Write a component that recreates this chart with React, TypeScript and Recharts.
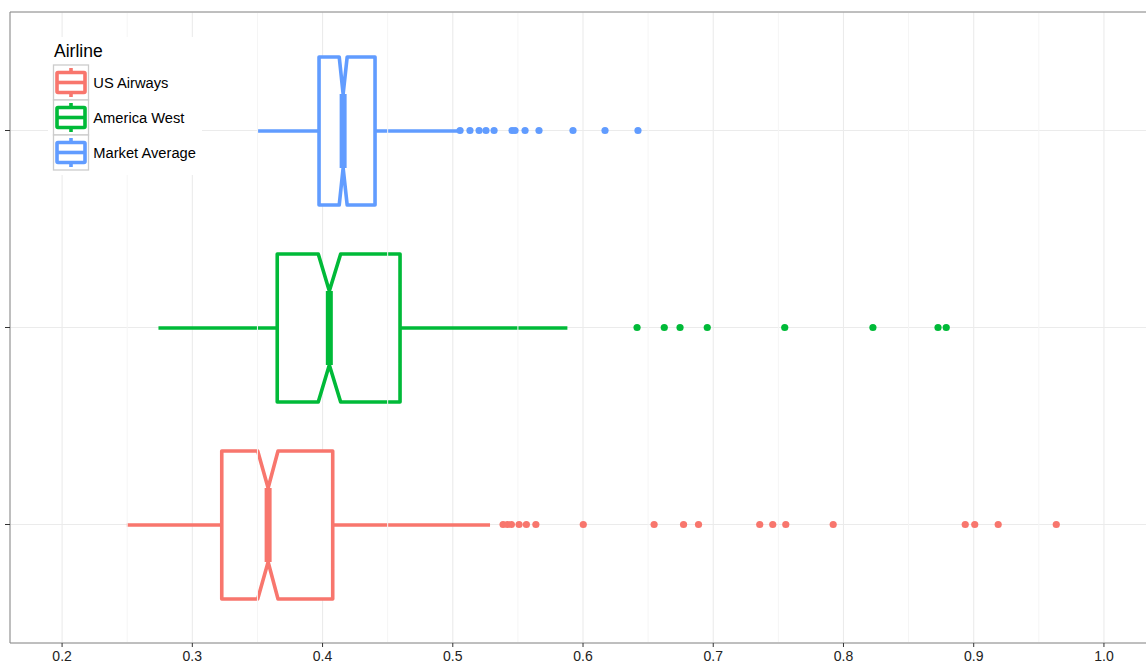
import {
  ComposedChart,
  Bar,
  Scatter,
  XAxis,
  YAxis,
  CartesianGrid,
  ReferenceLine,
  Legend,
} from "recharts";

const AIRLINES = ["US Airways", "America West", "Market Average"];
const COLORS = ["#F8766D", "#00BA38", "#619CFF"];

// five-number summaries plus notch bounds, one entry per airline
const WHISKER_LO = [0.2497, 0.274, 0.3505];
const Q1 = [0.3226, 0.3652, 0.3973];
const MEDIAN = [0.3582, 0.4052, 0.4158];
const Q3 = [0.4078, 0.4595, 0.4403];
const WHISKER_HI = [0.5286, 0.588, 0.5035];
const NOTCH_LO = [0.3502, 0.3967, 0.4128];
const NOTCH_HI = [0.3658, 0.4139, 0.4189];

const US_AIRWAYS_OUT = [
  0.5386, 0.542, 0.545, 0.5509, 0.5565, 0.5638, 0.6002, 0.6546, 0.6772, 0.6887,
  0.7357, 0.7457, 0.7557, 0.7921, 0.8935, 0.9008, 0.9188, 0.9634,
];
const AMERICA_WEST_OUT = [0.6415, 0.6624, 0.6745, 0.6954, 0.7549, 0.8226, 0.8726, 0.8789];
const MARKET_OUT = [
  0.5056, 0.5132, 0.5202, 0.5255, 0.5317, 0.5455, 0.5478, 0.5555, 0.5662, 0.5923,
  0.6169, 0.6422,
];

const X_TICKS = [0.2, 0.3, 0.4, 0.5, 0.6, 0.7, 0.8, 0.9, 1.0];
const X_MINOR = [0.25, 0.35, 0.45, 0.55, 0.65, 0.75, 0.85, 0.95];
// panel runs a few px past the right edge, so its right border is cropped off
const X_DOMAIN = [0.16, 1.0346];

const FONT = '"Liberation Sans", Arial, Helvetica, sans-serif';

const boxes = AIRLINES.map((airline, i) => ({
  airline,
  color: COLORS[i],
  lo: WHISKER_LO[i],
  q1: Q1[i],
  med: MEDIAN[i],
  q3: Q3[i],
  hi: WHISKER_HI[i],
  nLo: NOTCH_LO[i],
  nHi: NOTCH_HI[i],
  range: [WHISKER_LO[i], WHISKER_HI[i]],
}));

const outliers = [US_AIRWAYS_OUT, AMERICA_WEST_OUT, MARKET_OUT].flatMap((vals, i) =>
  vals.map((value) => ({ airline: AIRLINES[i], value, color: COLORS[i] }))
);

// the bar spans lo..hi, so its pixel extent gives the axis mapping for the rest of the box
function NotchedBox(props: any) {
  const { x, y, width, height, payload } = props;
  const { lo, hi, q1, q3, med, nLo, nHi, color } = payload;
  const px = (v: number) => x + ((v - lo) / (hi - lo)) * width;
  const cy = y + height / 2;
  const top = y;
  const bot = y + height;
  const inset = height / 4;
  const d = [
    `M${px(q1)},${top}`,
    `L${px(nLo)},${top}`,
    `L${px(med)},${top + inset}`,
    `L${px(nHi)},${top}`,
    `L${px(q3)},${top}`,
    `L${px(q3)},${bot}`,
    `L${px(nHi)},${bot}`,
    `L${px(med)},${bot - inset}`,
    `L${px(nLo)},${bot}`,
    `L${px(q1)},${bot}`,
    "Z",
  ].join(" ");
  return (
    <g>
      <line x1={px(lo)} x2={px(q1)} y1={cy} y2={cy} stroke={color} strokeWidth={3.6} />
      <line x1={px(q3)} x2={px(hi)} y1={cy} y2={cy} stroke={color} strokeWidth={3.6} />
      <path d={d} fill="#FFFFFF" stroke={color} strokeWidth={3.6} strokeLinejoin="round" />
      <line
        x1={px(med)}
        x2={px(med)}
        y1={top + inset}
        y2={bot - inset}
        stroke={color}
        strokeWidth={7}
      />
    </g>
  );
}

function OutlierDot(props: any) {
  const { cx, cy, payload } = props;
  return <circle cx={cx} cy={cy} r={3.6} fill={payload.color} />;
}

function XTick(props: any) {
  const { x, y, payload } = props;
  return (
    <text
      x={x}
      y={y + 12}
      textAnchor="middle"
      fontSize={14}
      fontFamily={FONT}
      fill="#222222"
    >
      {Number(payload.value).toFixed(1)}
    </text>
  );
}

function AirlineLegend() {
  const key = 35;
  return (
    <svg width={154} height={138} style={{ display: "block", fontFamily: FONT }}>
      <rect x={0} y={0} width={154} height={138} fill="#FFFFFF" />
      <text x={6} y={20} fontSize={17.5} fill="#000000">
        Airline
      </text>
      {AIRLINES.map((name, i) => {
        const kx = 5.5;
        const ky = 28 + i * key;
        const mid = kx + key / 2;
        return (
          <g key={name}>
            <rect x={kx} y={ky} width={key} height={key} fill="#FFFFFF" stroke="#CCCCCC" strokeWidth={1.3} />
            <line x1={mid} x2={mid} y1={ky + 3} y2={ky + 32} stroke={COLORS[i]} strokeWidth={3.6} />
            <rect
              x={kx + 3.5}
              y={ky + 7.5}
              width={28}
              height={20}
              rx={1}
              fill="#FFFFFF"
              stroke={COLORS[i]}
              strokeWidth={3.6}
            />
            <line
              x1={kx + 3.5}
              x2={kx + 31.5}
              y1={ky + key / 2}
              y2={ky + key / 2}
              stroke={COLORS[i]}
              strokeWidth={3.6}
            />
            <text x={45.3} y={ky + key / 2} dy="0.35em" fontSize={14.7} fill="#000000">
              {name}
            </text>
          </g>
        );
      })}
    </svg>
  );
}

export default function App() {
  return (
    <div style={{ position: "absolute", left: 0, top: 0, background: "#FFFFFF", overflow: "hidden", width: 1146, height: 665 }}>
      <ComposedChart
        width={1149}
        height={665}
        data={boxes}
        layout="vertical"
        margin={{ top: 11, right: 0, bottom: 0, left: 0 }}
      >
        <CartesianGrid stroke="#EBEBEB" strokeWidth={1.1} />
        {X_MINOR.map((v) => (
          <ReferenceLine key={v} x={v} stroke="#F5F5F5" strokeWidth={1} ifOverflow="hidden" />
        ))}
        <XAxis
          type="number"
          domain={X_DOMAIN}
          ticks={X_TICKS}
          allowDataOverflow
          axisLine={{ stroke: "#888888" }}
          tickLine={{ stroke: "#333333" }}
          tickSize={4}
          height={22}
          tick={XTick}
        />
        <XAxis
          xAxisId="top"
          orientation="top"
          type="number"
          domain={X_DOMAIN}
          allowDataOverflow
          height={1}
          tick={false}
          tickLine={false}
          axisLine={{ stroke: "#888888" }}
        />
        <YAxis
          type="category"
          dataKey="airline"
          reversed
          allowDuplicatedCategory={false}
          width={10}
          padding={{ top: 20, bottom: 20 }}
          tickSize={5}
          tickFormatter={() => ""}
          axisLine={{ stroke: "#888888" }}
          tickLine={{ stroke: "#333333" }}
        />
        <Bar dataKey="range" barSize={148} shape={NotchedBox} isAnimationActive={false} />
        <Scatter data={outliers} dataKey="value" shape={OutlierDot} isAnimationActive={false} />
        <Legend
          layout="vertical"
          align="center"
          verticalAlign="middle"
          content={AirlineLegend}
          wrapperStyle={{ left: 48, top: 37, width: 154, height: 138 }}
        />
      </ComposedChart>
    </div>
  );
}
